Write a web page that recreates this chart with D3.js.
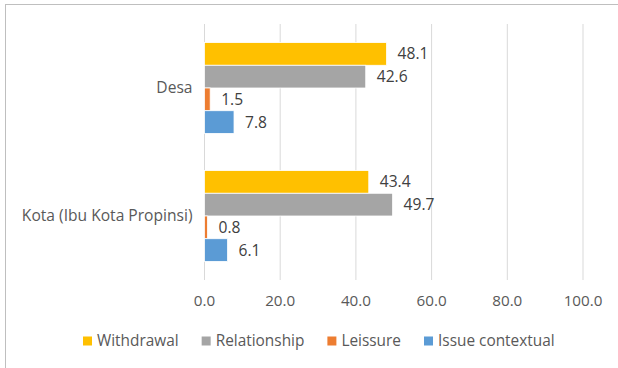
<!DOCTYPE html>
<html>
<head>
<meta charset="utf-8">
<script src="https://cdn.jsdelivr.net/npm/d3@7"></script>
<style>
  body { margin: 0; background: #fff; }
  svg text { font-family: "Open Sans", "Noto Sans", sans-serif; }
</style>
</head>
<body>
<div id="chart"></div>
<script>
const categories = ["Desa", "Kota (Ibu Kota Propinsi)"];
const seriesNames = ["Withdrawal", "Relationship", "Leissure", "Issue contextual"];
const seriesColors = ["#FFC000", "#A5A5A5", "#ED7D31", "#5B9BD5"];
const values = {
  "Desa": [48.1, 42.6, 1.5, 7.8],
  "Kota (Ibu Kota Propinsi)": [43.4, 49.7, 0.8, 6.1]
};
const xTicks = [0, 20, 40, 60, 80, 100];

const width = 618, height = 368;
const plot = { left: 204.5, right: 583, top: 24, bottom: 280 };

const svg = d3.select("#chart").append("svg")
  .attr("width", width)
  .attr("height", height);

// chart border (only top and left edges are visible in the picture)
svg.append("rect")
  .attr("x", 5.5).attr("y", 4.5)
  .attr("width", 640).attr("height", 400)
  .attr("fill", "none")
  .attr("stroke", "#BFBFBF");

const x = d3.scaleLinear().domain([0, 100]).range([plot.left, plot.right]);

const y0 = d3.scaleBand()
  .domain(categories)
  .range([plot.top, plot.bottom])
  .paddingInner(0.29)
  .paddingOuter(0.145);

const y1 = d3.scaleBand()
  .domain(seriesNames)
  .range([0, y0.bandwidth()]);

// gridlines
svg.append("g")
  .selectAll("line")
  .data(xTicks)
  .join("line")
  .attr("x1", d => x(d)).attr("x2", d => x(d))
  .attr("y1", plot.top).attr("y2", plot.bottom)
  .attr("stroke", "#D9D9D9")
  .attr("stroke-width", 1);

// x tick labels
svg.append("g")
  .selectAll("text")
  .data(xTicks)
  .join("text")
  .attr("x", d => x(d))
  .attr("y", 306)
  .attr("text-anchor", "middle")
  .attr("fill", "#595959")
  .attr("font-size", 15.2)
  .text(d => d.toFixed(1));

// category labels
svg.append("g")
  .selectAll("text")
  .data(categories)
  .join("text")
  .attr("x", plot.left - 12)
  .attr("y", d => y0(d) + y0.bandwidth() / 2)
  .attr("dy", "0.35em")
  .attr("text-anchor", "end")
  .attr("fill", "#595959")
  .attr("font-size", 15.6)
  .text(d => d);

const groups = svg.append("g")
  .selectAll("g")
  .data(categories)
  .join("g")
  .attr("transform", d => `translate(0,${y0(d)})`);

groups.selectAll("rect")
  .data(c => values[c].map((v, i) => ({ name: seriesNames[i], value: v, color: seriesColors[i] })))
  .join("rect")
  .attr("x", x(0))
  .attr("y", d => y1(d.name))
  .attr("width", d => x(d.value) - x(0))
  .attr("height", y1.bandwidth())
  .attr("fill", d => d.color)
  .attr("stroke", "#fff")
  .attr("stroke-width", 0.8);

groups.selectAll("text")
  .data(c => values[c].map((v, i) => ({ name: seriesNames[i], value: v })))
  .join("text")
  .attr("x", d => x(d.value) + 11)
  .attr("y", d => y1(d.name) + y1.bandwidth() / 2)
  .attr("dy", "0.35em")
  .attr("fill", "#404040")
  .attr("font-size", 15.6)
  .text(d => d.value.toFixed(1));

// legend
const legend = svg.append("g").attr("transform", "translate(0,341)");
let lx = 83;
seriesNames.forEach((name, i) => {
  const item = legend.append("g").attr("transform", `translate(${lx},0)`);
  item.append("rect")
    .attr("x", 0).attr("y", -4.5)
    .attr("width", 9).attr("height", 9)
    .attr("fill", seriesColors[i]);
  const t = item.append("text")
    .attr("x", 14)
    .attr("dy", "0.35em")
    .attr("fill", "#595959")
    .attr("font-size", 15.4)
    .text(name);
  lx += 14 + t.node().getComputedTextLength() + 23;
});
</script>
</body>
</html>
